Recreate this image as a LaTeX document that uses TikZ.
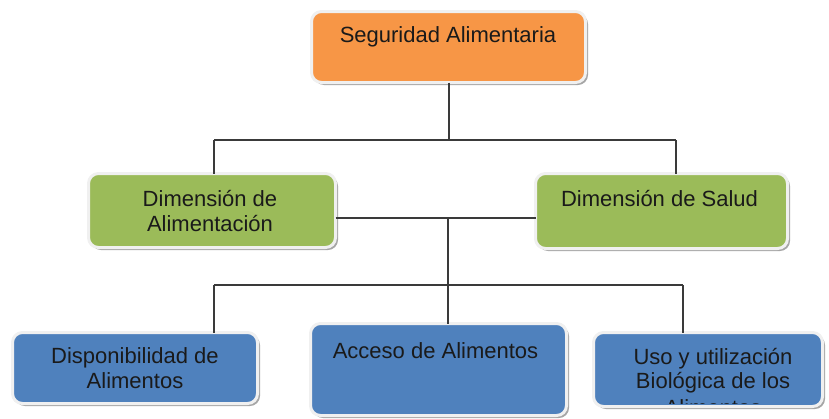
\documentclass[tikz,border=0pt]{standalone}
\usepackage{fontspec}
\setmainfont{Liberation Sans}
\usetikzlibrary{shadows}
\definecolor{orangebox}{HTML}{F79646}
\definecolor{greenbox}{HTML}{9BBB59}
\definecolor{bluebox}{HTML}{4F81BD}
\definecolor{linegrey}{HTML}{3A3A3A}
\definecolor{txtcol}{HTML}{1A1A1A}
\tikzset{
  box/.style={rectangle, rounded corners=10pt, draw=white!94!black, line width=3pt,
    inner sep=0pt, outer sep=0pt,
    drop shadow={shadow xshift=2.5pt, shadow yshift=-2.5pt, fill=black, opacity=0.35}},
  txt/.style={anchor=base, inner sep=0pt, text=txtcol, font=\fontsize{22}{25}\selectfont},
  conn/.style={draw=linegrey, line width=1.6pt}
}
\begin{document}
\begin{tikzpicture}[x=1pt,y=-1pt]
\useasboundingbox (0,0) rectangle (829,418);
% junction coordinates
\coordinate (j1) at (449,140);
\coordinate (a1) at (214,140);
\coordinate (a2) at (676,140);
\coordinate (m) at (448,218);
\coordinate (b1) at (214,285);
\coordinate (b3) at (683,285);
% boxes
\node[box, fill=orangebox, minimum width=274pt, minimum height=71pt] (top) at (448.5,47) {};
\node[box, fill=greenbox, minimum width=247pt, minimum height=74pt] (gl) at (212,210.5) {};
\node[box, fill=greenbox, minimum width=252pt, minimum height=75pt] (gr) at (661.5,211) {};
\node[box, fill=bluebox, minimum width=245pt, minimum height=71pt] (bl) at (135,368) {};
\node[box, fill=bluebox, minimum width=256pt, minimum height=92pt] (bm) at (438.5,369.5) {};
\node[box, fill=bluebox, minimum width=229pt, minimum height=74pt] (br) at (708,369.5) {};
% connectors
\draw[conn] (top.south -| j1) -- (j1);
\draw[conn] (a1) -- (a2);
\draw[conn] (a1) -- (a1 |- gl.north);
\draw[conn] (a2) -- (a2 |- gr.north);
\draw[conn] (m -| gl.east) -- (m -| gr.west);
\draw[conn] (m) -- (m |- bm.north);
\draw[conn] (b1) -- (b3);
\draw[conn] (b1) -- (b1 |- bl.north);
\draw[conn] (b3) -- (b3 |- br.north);
% texts
\node[txt] (t1) at (448,42) {Seguridad Alimentaria};
\node[txt] (t2a) at (210,206) {Dimensión de};
\node[txt] (t2b) at (210,231) {Alimentación};
\node[txt] (t3) at (659.5,206) {Dimensión de Salud};
\node[txt] (t4a) at (135,363) {Disponibilidad de};
\node[txt] (t4b) at (135,388) {Alimentos};
\node[txt] (t5) at (435.5,358) {Acceso de Alimentos};
\begin{scope}
\clip[rounded corners=8pt] (595,334) rectangle (822,403);
\node[txt] (t6a) at (713,364) {Uso y utilización};
\node[txt] (t6b) at (713,388) {Biológica de los};
\node[txt] (t6c) at (713,415) {Alimentos};
\end{scope}
\end{tikzpicture}
\end{document}
